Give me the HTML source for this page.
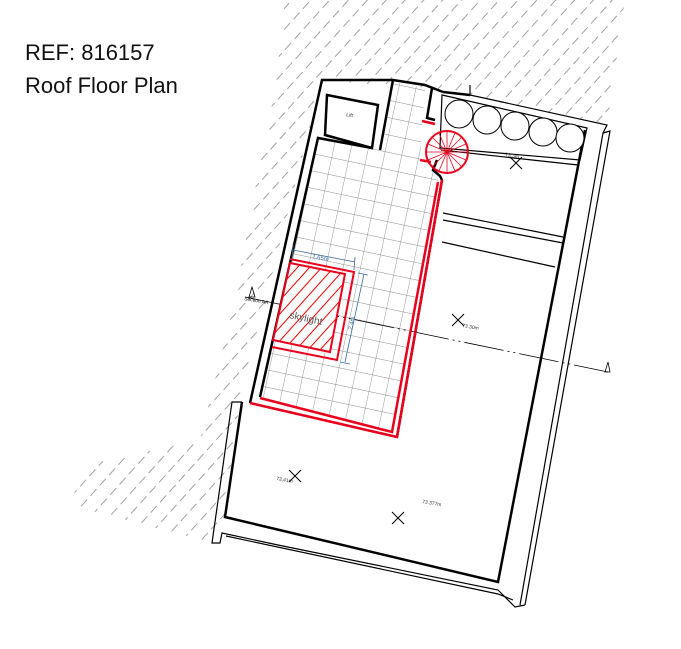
<!DOCTYPE html>
<html><head><meta charset="utf-8"><style>
html,body{margin:0;padding:0;background:#fff;width:681px;height:649px;overflow:hidden}
.t{position:absolute;left:25px;font-family:"Liberation Sans",sans-serif;font-size:22px;color:#111}
</style></head><body>
<div class="t" style="top:40px">REF: 816157</div>
<div class="t" style="top:73px">Roof Floor Plan</div>
<svg width="681" height="649" style="position:absolute;left:0;top:0">
<defs>
<pattern id="h" width="14" height="14" patternUnits="userSpaceOnUse" patternTransform="rotate(-48)">
<line x1="0" y1="7" x2="14" y2="7" stroke="#888" stroke-width="0.8" stroke-dasharray="9 5"/>
</pattern>
<pattern id="tile" width="17" height="17" patternUnits="userSpaceOnUse" patternTransform="rotate(12)">
<path d="M0 0H17M0 0V17" stroke="#8a8a8a" stroke-width="0.9" fill="none"/>
</pattern>
<pattern id="rh" width="9" height="9" patternUnits="userSpaceOnUse" patternTransform="rotate(-48)">
<line x1="0" y1="4" x2="9" y2="4" stroke="#e00" stroke-width="1"/>
</pattern>
<clipPath id="hc"><polygon points="285,0,625,0,607,125,440,90,322,80,240,400,222,533,212,543,70,505,85,465,200,440,235,300,255,190,275,90"/></clipPath>
</defs>
<rect x="0" y="0" width="681" height="649" fill="url(#h)" clip-path="url(#hc)"/>
<polygon points="262,397 318,138 380,150 393,82 425,88 420,160 440,170 438,182 392,432" fill="#fff"/>
<polygon points="262,397 318,138 380,150 393,82 425,88 420,160 440,170 438,182 392,432" fill="url(#tile)"/>
<g fill="none" stroke="#000" stroke-width="2.5">
<polyline points="250,403 322,80 393,80 425,85 443,92"/>
<polyline points="260,397 318,138 372,148"/>
<polygon points="327,95 378,105 372,148 325,135"/>
<polyline points="393,80 380,150"/>
<polyline points="432,88 427,118 435,120"/>
<polyline points="437,160 433,170 440,176 442,180"/>
<polyline points="442,180 397,437"/>
<polyline points="242,402 225,517 498,582 585,130"/>
<polyline points="443,92 470,95"/>
</g>
<g fill="none" stroke="#000" stroke-width="1.2">
<polyline points="470,95 470,85"/>
<polyline points="470,95 607,125 603,133 520,605"/>
<polyline points="603,133 610,131 525,605"/>
<polyline points="242,402 232,402 212,543 220,543 222,533 278,545 498,590 515,607 525,605"/>
<polyline points="226,536 498,594 513,600"/>
<polygon points="442,95 587,128 580,160 440,148"/>
<line x1="441" y1="150" x2="578" y2="165"/>
<line x1="443" y1="213" x2="563" y2="237"/>
<line x1="443" y1="220" x2="563" y2="243"/>
<line x1="442" y1="242" x2="555" y2="267"/>
</g>
<g fill="#fff" stroke="#000" stroke-width="1">
<circle cx="459" cy="114" r="14"/><circle cx="487" cy="120" r="14"/><circle cx="515" cy="126" r="14"/><circle cx="543" cy="132" r="14"/><circle cx="570" cy="138" r="14"/>
</g>
<polyline points="245,297 608,372" fill="none" stroke="#000" stroke-width="0.8" stroke-dasharray="40 4 2 4 2 4"/>
<polygon points="249,297 252,287 255,297" fill="none" stroke="#000" stroke-width="0.8"/>
<polygon points="605,372 608,362 610,372" fill="none" stroke="#000" stroke-width="0.8"/>
<text x="244" y="300" font-family="Liberation Sans" font-size="5" transform="rotate(10 244 300)">Section AA</text>
<g fill="none" stroke="#e8001c" stroke-width="2.5">
<polyline points="250,403 397,437 442,180"/>
<polyline points="260,398 392,432 438,182"/>
<polyline points="422,121 435,124"/>
<polyline points="420,160 431,162"/>
</g>
<polygon points="290,263 345,274 330,352 273,340" fill="#fff"/>
<polygon points="290,263 345,274 330,352 273,340" fill="url(#rh)" stroke="#e8001c" stroke-width="2"/>
<polyline points="290,259 354,272 337,360 272,347" fill="none" stroke="#e8001c" stroke-width="2"/>
<text x="289" y="318" font-family="Liberation Sans" font-size="10" fill="#555" transform="rotate(12 289 318)">skylight</text>
<g stroke="#3a6aa0" stroke-width="0.8" fill="none">
<line x1="293" y1="250" x2="355" y2="262"/>
<line x1="293" y1="245" x2="292" y2="260"/>
<line x1="355" y1="257" x2="354" y2="270"/>
<line x1="364" y1="274" x2="345" y2="362"/>
<line x1="358" y1="273" x2="368" y2="275"/>
<line x1="340" y1="362" x2="350" y2="364"/>
</g>
<text x="312" y="258" font-family="Liberation Sans" font-size="6" fill="#3a6aa0" transform="rotate(11 312 258)">1.65m</text>
<text x="352" y="330" font-family="Liberation Sans" font-size="6" fill="#3a6aa0" transform="rotate(-78 352 330)">2.4m</text>
<circle cx="447" cy="152" r="21" stroke="#e8001c" fill="none" stroke-width="2"/>
<g stroke="#e8001c" stroke-width="0.8">
<line x1="447" y1="131" x2="447" y2="173"/><line x1="426" y1="152" x2="468" y2="152"/>
<line x1="432" y1="137" x2="462" y2="167"/><line x1="462" y1="137" x2="432" y2="167"/>
<line x1="439" y1="133" x2="455" y2="171"/><line x1="455" y1="133" x2="439" y2="171"/>
<line x1="428" y1="144" x2="466" y2="160"/><line x1="428" y1="160" x2="466" y2="144"/>
</g>
<g stroke="#000" stroke-width="1">
<path d="M510 157l12 12M522 157l-12 12"/>
<path d="M452 314l12 12M464 314l-12 12"/>
<path d="M289 470l12 12M301 470l-12 12"/>
<path d="M392 512l12 12M404 512l-12 12"/>
</g>
<g font-family="Liberation Sans" font-size="5" fill="#333">
<text x="505" y="156" transform="rotate(10 505 156)">73.3m</text>
<text x="462" y="327" transform="rotate(10 462 327)">73.30m</text>
<text x="276" y="480" transform="rotate(10 276 480)">73.41m</text>
<text x="422" y="503" transform="rotate(10 422 503)">73.377m</text>
<text x="346" y="116" transform="rotate(10 346 116)">Lift</text>
</g>
</svg>
</body></html>
